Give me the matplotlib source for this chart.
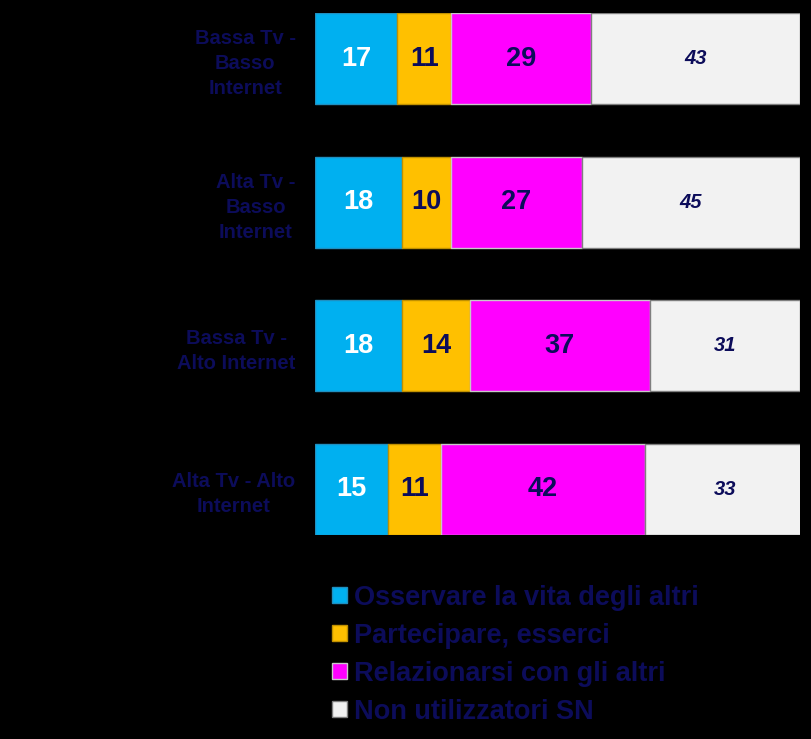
import matplotlib
matplotlib.use('Agg')
import matplotlib.pyplot as plt
import numpy as np

plt.rcParams['font.family'] = ['Liberation Sans', 'DejaVu Sans']

groups = ['Bassa Tv -\nBasso\nInternet', 'Alta Tv -\nBasso\nInternet',
          'Bassa Tv -\nAlto Internet', 'Alta Tv - Alto\nInternet']
series = ['Osservare la vita degli altri', 'Partecipare, esserci',
          'Relazionarsi con gli altri', 'Non utilizzatori SN']
osservare = [17, 18, 18, 15]
partecipare = [11, 10, 14, 11]
relazionarsi = [29, 27, 37, 42]
non_utiliz = [43, 45, 31, 33]

colors = ['#00b0f0', '#ffc000', '#ff00ff', '#f2f2f2']
edges = ['#1f8fc0', '#c09000', '#c8c8c8', '#7f7f7f']
navy = '#0c0c5a'

fig = plt.figure(figsize=(8.11, 7.39), dpi=100, facecolor='black')
ax = fig.add_axes([315/811, 1-535/739, 485/811, 522/739])
ax.set_facecolor('black')

y = np.arange(len(groups))
left = np.zeros(len(groups))
vals = [osservare, partecipare, relazionarsi, non_utiliz]
handles = []
for i, v in enumerate(vals):
    v = np.array(v)
    b = ax.barh(y, v, left=left, height=0.635, color=colors[i],
                edgecolor=edges[i], linewidth=1, label=series[i])
    handles.append(b)
    for yy, l, w in zip(y, left, v):
        if i == 0:
            ax.text(l + w/2, yy, str(w), ha='center', va='center',
                    color='white', fontsize=19.5, fontweight='bold')
        elif i == 3:
            ax.text(l + w/2, yy, str(w), ha='center', va='center',
                    color=navy, fontsize=14.5, fontweight='bold', style='italic')
        else:
            ax.text(l + w/2, yy, str(w), ha='center', va='center',
                    color=navy, fontsize=19.5, fontweight='bold')
    left = left + v

ax.set_xlim(0, 100)
ax.set_ylim(3.3175, -0.3175)
ax.set_yticks(y)
ax.set_yticklabels(groups, fontsize=14.5, fontweight='bold', color=navy,
                   multialignment='center', linespacing=1.4)
ax.tick_params(axis='y', length=0, pad=14)
ax.set_xticks([])
for s in ax.spines.values():
    s.set_visible(False)

leg = fig.legend(handles=handles, loc='upper left', bbox_to_anchor=(321/811, 1-574/739),
                 frameon=False, fontsize=19.5, handlelength=0.55, handleheight=0.55,
                 handletextpad=0.25, labelspacing=0.44, borderaxespad=0)
for t in leg.get_texts():
    t.set_color(navy)
    t.set_fontweight('bold')

plt.savefig('out.png', dpi=100, facecolor='black')
plt.close()
